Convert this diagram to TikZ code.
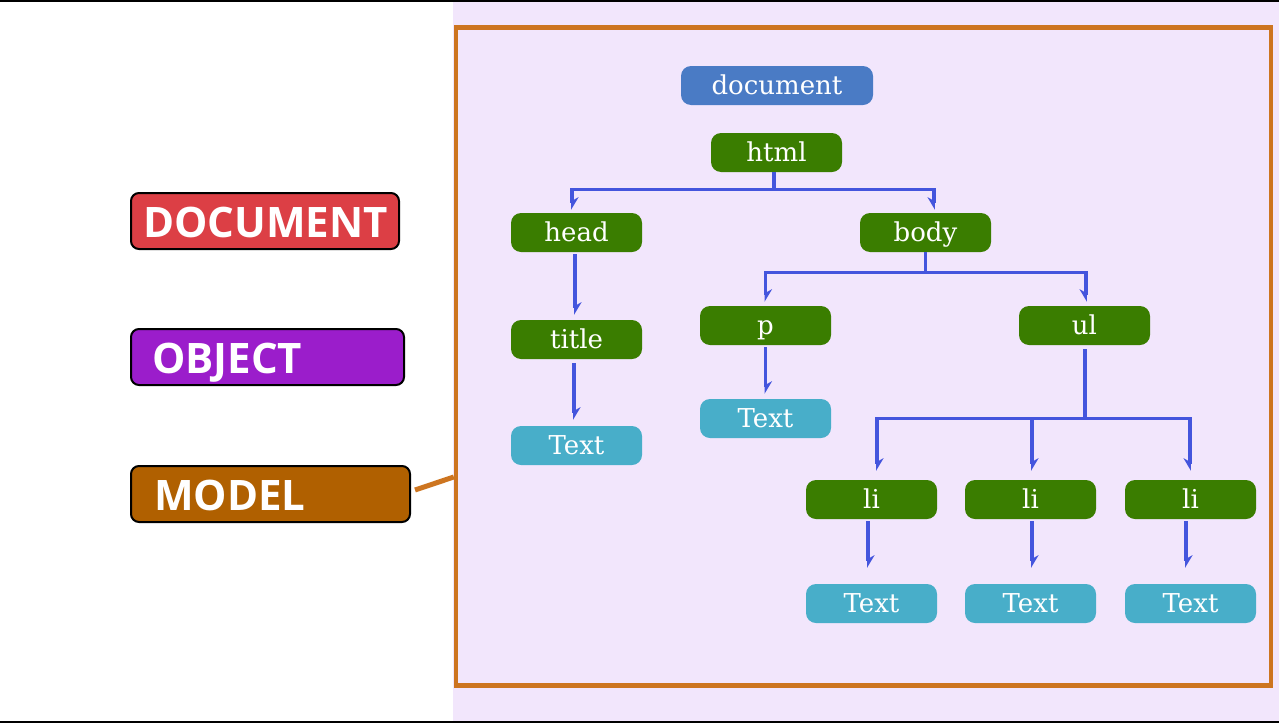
\documentclass[tikz,border=0pt]{standalone}
\usepackage{fontspec}
\setmainfont{DejaVu Serif}
\newfontfamily\labelfont{Open Sans}
\usetikzlibrary{arrows.meta,calc}

\definecolor{lavender}{HTML}{F2E6FC}
\definecolor{frameorange}{HTML}{CD7520}
\definecolor{docred}{HTML}{DC3F45}
\definecolor{objpurple}{HTML}{9B1DCB}
\definecolor{modelbrown}{HTML}{B06000}
\definecolor{rootblue}{HTML}{4A7BC5}
\definecolor{elemgreen}{HTML}{3A7D00}
\definecolor{textcyan}{HTML}{48AEC9}
\definecolor{linkblue}{HTML}{4455DD}

\tikzset{
  treenode/.style={rounded corners=10pt, minimum width=131pt, minimum height=39pt,
    inner sep=0pt, text height=22pt, text depth=4pt, text=white,
    font=\fontsize{26}{26}\selectfont},
  rootnode/.style={treenode, fill=rootblue, minimum width=192pt},
  elemnode/.style={treenode, fill=elemgreen},
  textnode/.style={treenode, fill=textcyan},
  wordbox/.style={draw=black, line width=2pt, rounded corners=8pt, anchor=west,
    minimum height=56pt, inner ysep=0pt, text height=32pt, text depth=0pt,
    align=left, text=white,
    font=\labelfont\bfseries\fontsize{42}{42}\selectfont},
  conn/.style={draw=linkblue, line width=3.2pt},
  tipR/.style={conn, -{Stealth[harpoon, length=11pt, width=13pt]}},
  tipL/.style={conn, -{Stealth[harpoon, swap, length=11pt, width=13pt]}},
}

\begin{document}
\begin{tikzpicture}[x=1pt, y=-1pt]
  \useasboundingbox (0,0) rectangle (1279,723);

  % panel behind the tree
  \fill[lavender] (453,0) rectangle (1279,723);
  % thin black rules at the top and bottom
  \fill[black] (0,0) rectangle (1279,2);
  \fill[black] (0,721) rectangle (1279,723);

  % frame round the tree
  \node[draw=frameorange, line width=4.5pt, minimum width=815pt, minimum height=658pt,
        inner sep=0pt] (frame) at (863.5,356.25) {};

  % the three words
  \node[wordbox, fill=docred, inner xsep=12pt, text width=244pt] (wdoc) at (130,221) {DOCUMENT};
  \node[wordbox, fill=objpurple, inner xsep=21pt, text width=231pt] (wobj) at (130,357) {OBJECT};
  \node[wordbox, fill=modelbrown, inner xsep=23pt, text width=233pt] (wmod) at (130,494) {MODEL};

  \coordinate (mfrom) at ($(wmod.east)+(4,-4)$);
  \coordinate (mto) at ($(frame.west)+(0,120.75)$);
  \draw[frameorange, line width=5pt] (mfrom) -- (mto);

  % tree of nodes
  \node[rootnode] (document) at (777,85.5) {document};
  \node[elemnode] (html)  at (776.5,152.5) {html};
  \node[elemnode] (head)  at (576.5,232.5) {head};
  \node[elemnode] (body)  at (925.5,232.5) {body};
  \node[elemnode] (title) at (576.5,339.5) {title};
  \node[elemnode] (p)     at (765.5,325.5) {p};
  \node[elemnode] (ul)    at (1084.5,325.5) {ul};
  \node[textnode] (ttitle) at (576.5,445.5) {Text};
  \node[textnode] (tp)     at (765.5,418.5) {Text};
  \node[elemnode] (li1) at (871.5,499.5) {li};
  \node[elemnode] (li2) at (1030.5,499.5) {li};
  \node[elemnode] (li3) at (1190.5,499.5) {li};
  \node[textnode] (tli1) at (871.5,603.5) {Text};
  \node[textnode] (tli2) at (1030.5,603.5) {Text};
  \node[textnode] (tli3) at (1190.5,603.5) {Text};

  % html -> head, body
  \draw[conn] ([xshift=-2.5pt]html.south) -- ++(0,17) coordinate (jhtml);
  \draw[tipR] (jhtml) -| ([xshift=-4.5pt,yshift=3pt]head.north);
  \draw[tipL] (jhtml) -| ([xshift=8.5pt,yshift=3pt]body.north);

  % head -> title -> Text
  \draw[tipR] ([xshift=-1.5pt,yshift=-2pt]head.south) -- ([xshift=-1.5pt,yshift=5pt]title.north);
  \draw[tipR] ([xshift=-2.5pt,yshift=-4pt]title.south) -- ([xshift=-2.5pt,yshift=6pt]ttitle.north);

  % body -> p, ul
  \draw[conn] (body.south) -- ++(0,20) coordinate (jbody);
  \draw[tipR] (jbody) -| ([yshift=4pt]p.north);
  \draw[tipL] (jbody) -| ([xshift=1.5pt,yshift=4pt]ul.north);

  % p -> Text
  \draw[tipR] ([yshift=-2pt]p.south) -- ([yshift=5pt]tp.north);

  % ul -> li, li, li
  \draw[conn] ([xshift=0.5pt,yshift=-4pt]ul.south) -- ++(0,69) coordinate (jul);
  \draw[tipR] (jul) -| ([xshift=5.5pt,yshift=9pt]li1.north);
  \draw[tipR] (jul) -| ([xshift=1.5pt,yshift=9pt]li2.north);
  \draw[tipL] (jul) -| ([xshift=-0.5pt,yshift=9pt]li3.north);

  % li -> Text
  \draw[tipR] ([xshift=-3.5pt,yshift=-2pt]li1.south) -- ([xshift=-3.5pt,yshift=16pt]tli1.north);
  \draw[tipR] ([xshift=1.5pt,yshift=-2pt]li2.south) -- ([xshift=1.5pt,yshift=16pt]tli2.north);
  \draw[tipR] ([xshift=-4.5pt,yshift=-2pt]li3.south) -- ([xshift=-4.5pt,yshift=16pt]tli3.north);
\end{tikzpicture}
\end{document}
